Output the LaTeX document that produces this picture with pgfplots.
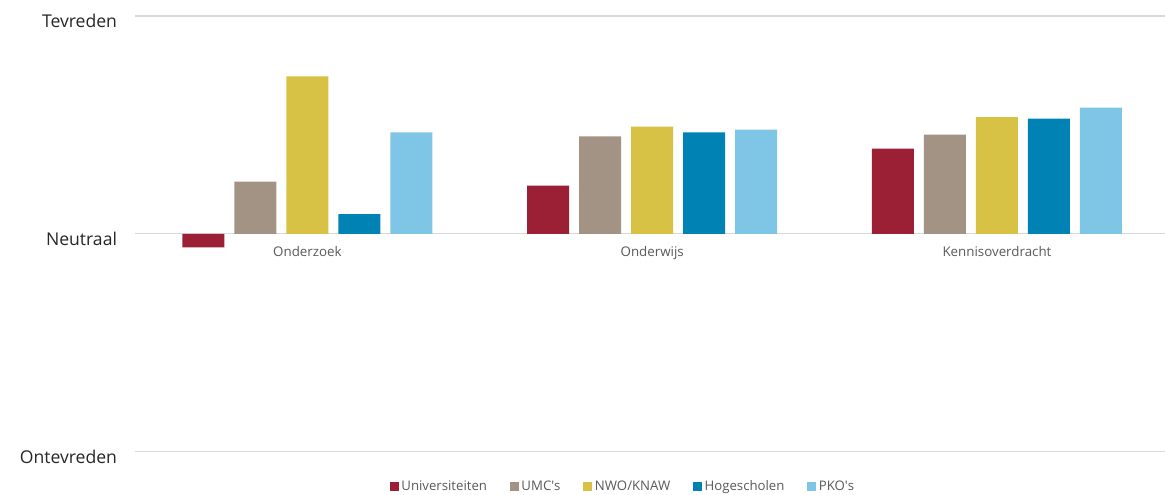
\documentclass[border=0pt]{standalone}
\usepackage{fontspec}
\setmainfont{Open Sans}
\usepackage{pgfplots}
\pgfplotsset{compat=1.18}
\definecolor{cUniv}{HTML}{9B2035}
\definecolor{cUMC}{HTML}{A39384}
\definecolor{cNWO}{HTML}{D7C245}
\definecolor{cHoge}{HTML}{0082B4}
\definecolor{cPKO}{HTML}{7FC6E6}
\definecolor{gridc}{HTML}{D9D9D9}
\definecolor{txt}{HTML}{595959}
\begin{document}
\begin{tikzpicture}
\useasboundingbox (0,0) rectangle (873.75pt,371.25pt);
\begin{axis}[
  at={(101.3pt,32.5pt)}, anchor=south west,
  scale only axis,
  width=775.7pt, height=326.75pt,
  xmin=-0.5, xmax=2.5,
  ymin=-1, ymax=1,
  axis x line=middle,
  axis y line=left,
  x axis line style={draw=gridc, line width=0.9pt, -},
  y axis line style={draw=none},
  ybar=7.5pt,
  bar width=31.5pt,
  xtick={0,1,2},
  xticklabels={Onderzoek,Onderwijs,Kennisoverdracht},
  ytick={-1,0,1},
  yticklabels={Ontevreden,Neutraal,Tevreden},
  ymajorgrids,
  grid style={draw=gridc, line width=0.8pt},
  major tick length=0pt,
  xtick style={draw=none},
  ytick style={draw=none},
  xticklabel style={font=\fontsize{10pt}{12pt}\selectfont, text=txt, yshift=-6pt},
  yticklabel style={font=\fontsize{13.2pt}{15pt}\selectfont, text=black!85, xshift=-10pt, yshift=-4pt},
  legend columns=5,
  legend style={at={(0.472,-0.08)}, anchor=center, draw=none, fill=none,
    font=\fontsize{9.9pt}{12pt}\selectfont, text=txt,
    /tikz/every even column/.append style={column sep=15pt}},
  legend image code/.code={\fill[#1] (0pt,-3.4pt) rectangle (6.8pt,3.4pt);},
]
\addplot[fill=cUniv, draw=none] coordinates {(0,-0.062) (1,0.221) (2,0.391)};
\addplot[fill=cUMC, draw=none] coordinates {(0,0.240) (1,0.447) (2,0.455)};
\addplot[fill=cNWO, draw=none] coordinates {(0,0.723) (1,0.492) (2,0.536)};
\addplot[fill=cHoge, draw=none] coordinates {(0,0.090) (1,0.466) (2,0.529)};
\addplot[fill=cPKO, draw=none] coordinates {(0,0.466) (1,0.478) (2,0.579)};
\legend{Universiteiten,UMC\textquotesingle s,NWO/KNAW,Hogescholen,PKO\textquotesingle s}
\end{axis}
\end{tikzpicture}
\end{document}
